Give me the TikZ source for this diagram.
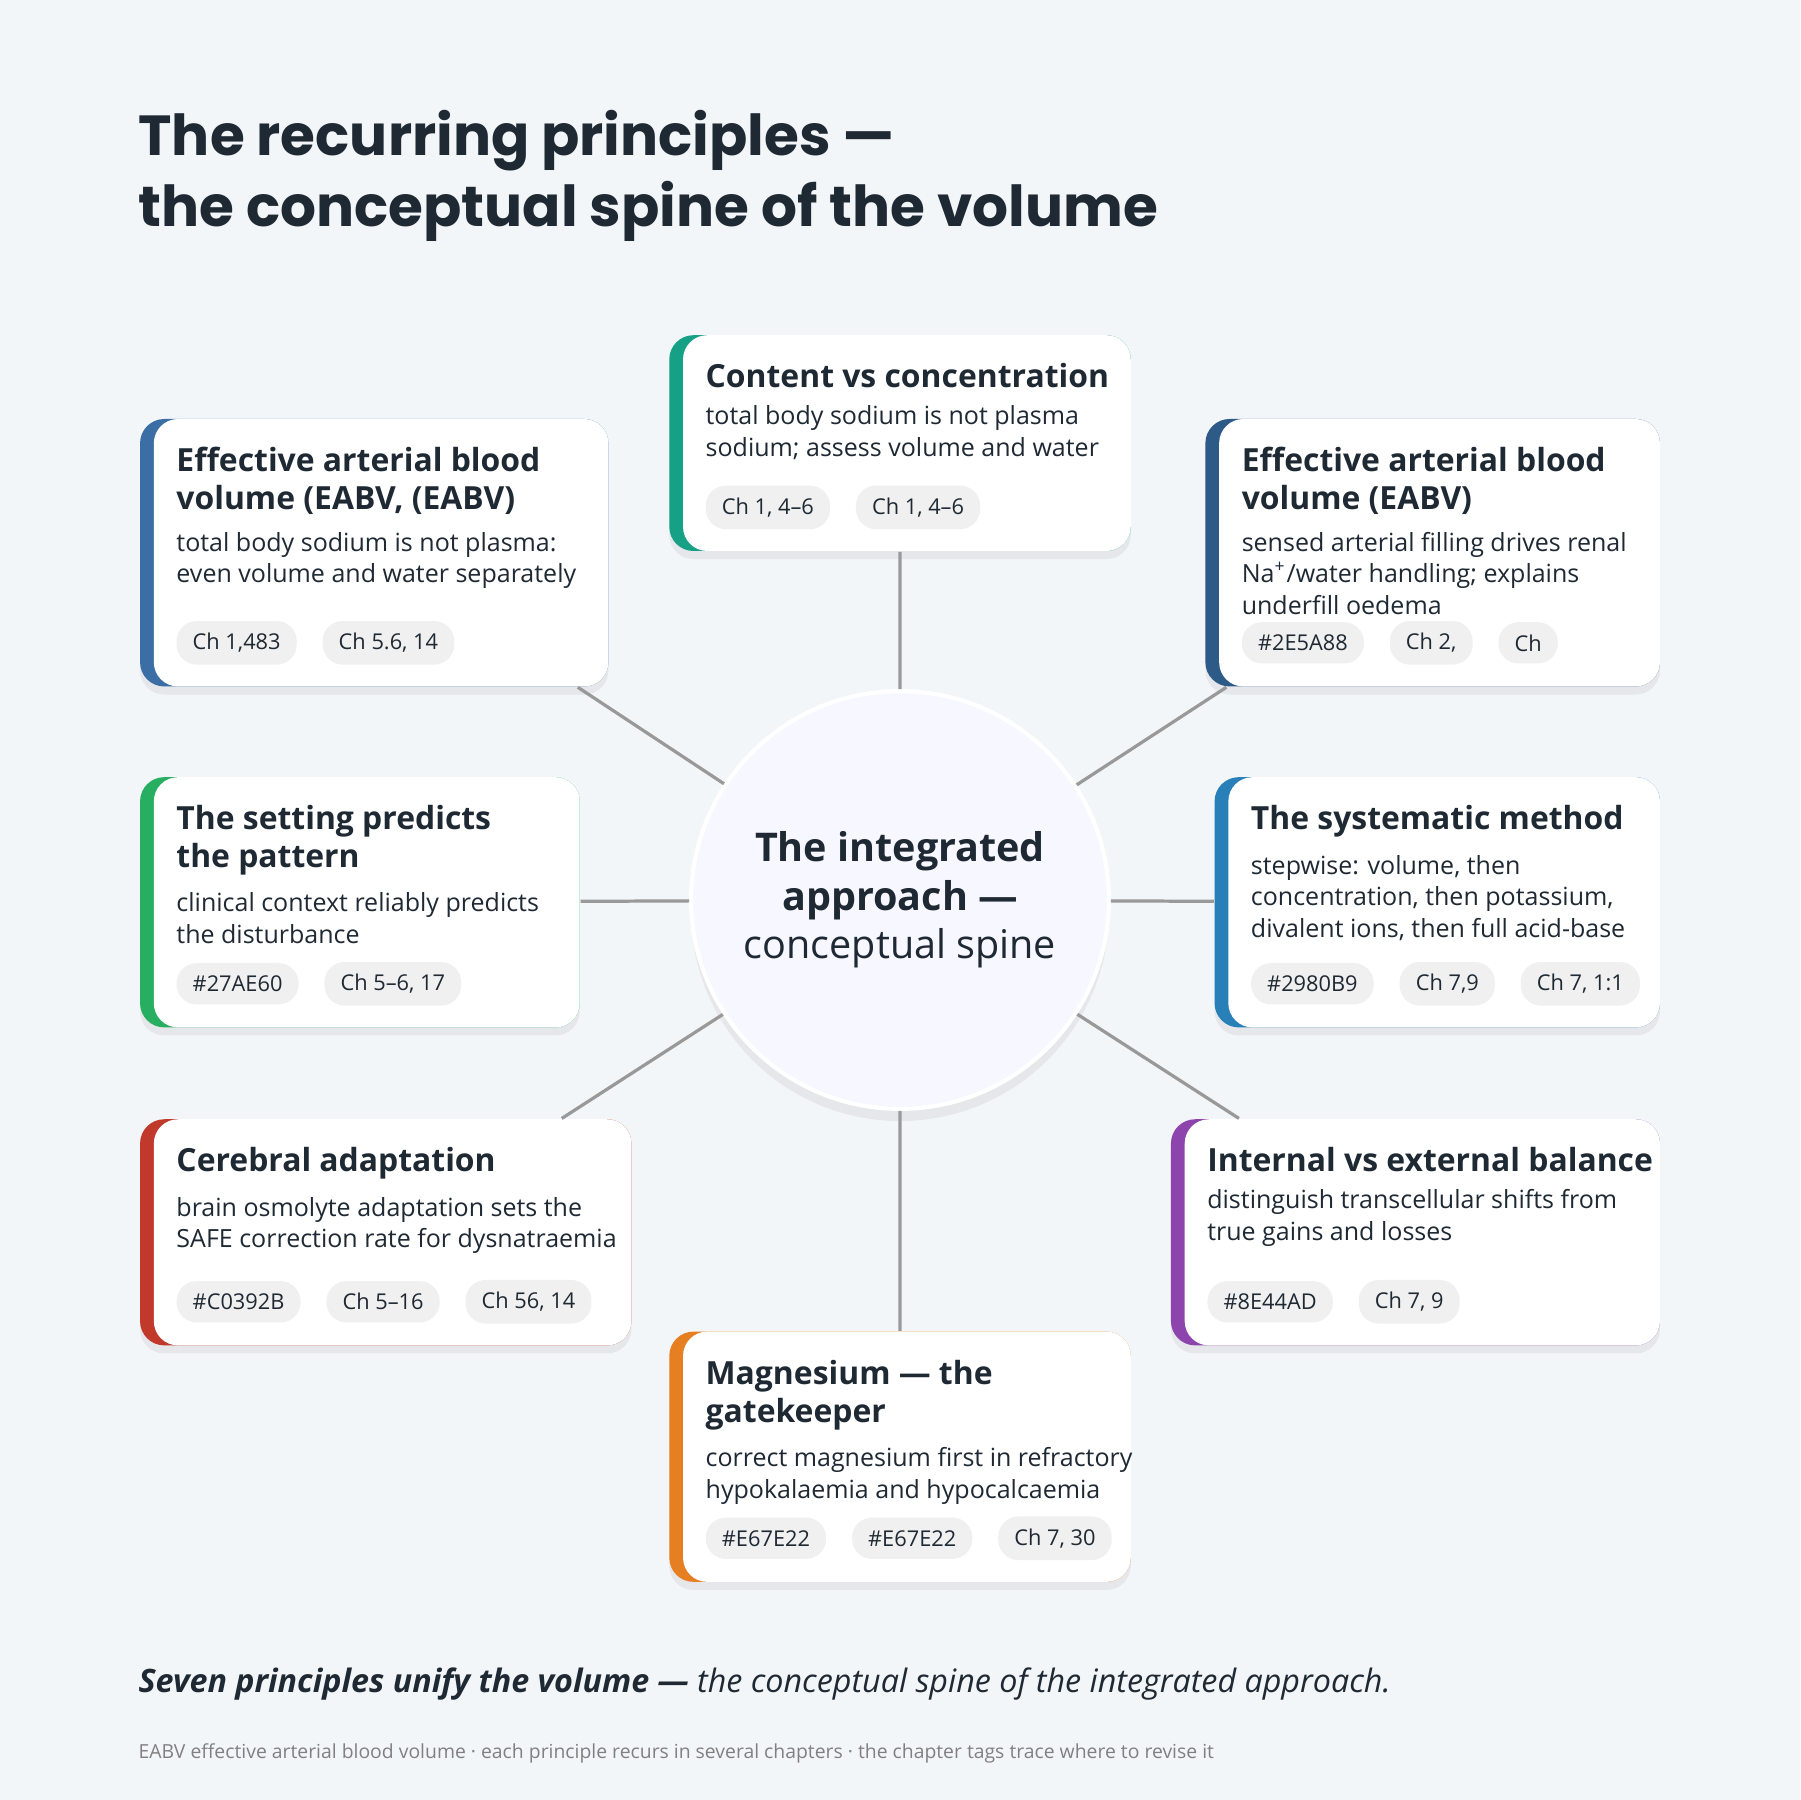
\documentclass[tikz,border=0pt]{standalone}
\usepackage{fontspec}
\setmainfont{Open Sans}
\newfontfamily\headfont{Poppins}
\usetikzlibrary{positioning, fit, shadows}

\definecolor{ink}{HTML}{1F2933}
\definecolor{bgc}{HTML}{F3F6F9}
\definecolor{teal}{HTML}{16A085}
\definecolor{steel}{HTML}{3A6EA5}
\definecolor{navy}{HTML}{2E5A88}
\definecolor{leaf}{HTML}{27AE60}
\definecolor{sky}{HTML}{2980B9}
\definecolor{brick}{HTML}{C0392B}
\definecolor{plum}{HTML}{8E44AD}
\definecolor{amber}{HTML}{E67E22}

\tikzset{
  head/.style  = {font=\fontsize{7.9}{9.4}\selectfont\bfseries, text=ink, align=left, inner sep=0pt},
  body/.style  = {font=\fontsize{6.2}{7.8}\selectfont, text=ink, align=left, inner sep=0pt},
  chip/.style  = {font=\fontsize{5.4}{6}\selectfont, text=ink, fill=black!6, rounded corners=5pt,
                  inner xsep=4pt, inner ysep=3pt, minimum height=0.36cm},
  link/.style  = {draw=black!40, line width=0.8pt},
}

% name, x1, ytop, x2, ybot, colour, title, body, chips
\newcommand{\principle}[9]{
  \fill[#6, rounded corners=6pt, drop shadow={opacity=.12, shadow xshift=0pt, shadow yshift=-2pt}]
    (#2,#5) rectangle (#4,#3);
  \fill[white, rounded corners=6pt] (#2+0.12,#5) rectangle (#4,#3);
  \node[inner sep=0pt, fit={(#2,#5)(#4,#3)}] (#1) {};
  \node[head, anchor=north west] (#1t) at (#2+0.31,#3-0.24) {#7};
  \node[body, anchor=north west] (#1b) at ([yshift=-0.14cm]#1t.south west) {#8};
  \coordinate (#1c0) at (#2+0.1,#5+0.38);
  \foreach \c [count=\i, remember=\i as \j (initially 0)] in {#9}
    \node[chip, anchor=west] (#1c\i) at ([xshift=6pt]#1c\j.east) {\c};
}

\begin{document}
\begin{tikzpicture}
  \fill[bgc] (0,0) rectangle (15.68,15.68);
  \useasboundingbox (0,0) rectangle (15.68,15.68);

  % heading
  \node[anchor=west, inner sep=0pt, text=ink, align=left,
        font=\headfont\fontsize{14}{17.5}\selectfont\bfseries] (title) at (1.2,14.15)
    {The recurring principles —\\the conceptual spine of the volume};

  % hub
  \node[circle, minimum size=3.64cm, fill=blue!3!white, draw=white, line width=1pt,
        drop shadow={opacity=.12, shadow xshift=0pt, shadow yshift=-3pt},
        align=center, text=ink, font=\fontsize{9.8}{12}\selectfont] (hub) at (7.84,7.84)
    {\textbf{The integrated}\\\textbf{approach —}\\conceptual spine};

  \principle{content}{5.83}{12.76}{9.85}{10.88}{teal}{Content vs concentration}
    {total body sodium is not plasma\\sodium; assess volume and water}{{Ch 1, 4–6}, {Ch 1, 4–6}}
  \principle{eabvl}{1.22}{12.03}{5.30}{9.70}{steel}{Effective arterial blood\\volume (EABV, (EABV)}
    {total body sodium is not plasma:\\even volume and water separately}{{Ch 1,483}, {Ch 5.6, 14}}
  \principle{eabvr}{10.50}{12.03}{14.46}{9.70}{navy}{Effective arterial blood\\volume (EABV)}
    {sensed arterial filling drives renal\\Na\textsuperscript{+}/water handling; explains\\underfill oedema}{\#2E5A88, {Ch 2,}, Ch}
  \principle{setting}{1.22}{8.91}{5.05}{6.73}{leaf}{The setting predicts\\the pattern}
    {clinical context reliably predicts\\the disturbance}{\#27AE60, {Ch 5–6, 17}}
  \principle{method}{10.58}{8.91}{14.46}{6.73}{sky}{The systematic method}
    {stepwise: volume, then\\concentration, then potassium,\\divalent ions, then full acid-base}{\#2980B9, {Ch 7,9}, {Ch 7, 1:1}}
  \principle{cerebral}{1.22}{5.93}{5.50}{3.96}{brick}{Cerebral adaptation}
    {brain osmolyte adaptation sets the\\SAFE correction rate for dysnatraemia}{\#C0392B, Ch 5–16, {Ch 56, 14}}
  \principle{balance}{10.20}{5.93}{14.46}{3.96}{plum}{Internal vs external balance}
    {distinguish transcellular shifts from\\true gains and losses}{\#8E44AD, {Ch 7, 9}}
  \principle{magnes}{5.83}{4.08}{9.85}{1.90}{amber}{Magnesium — the\\gatekeeper}
    {correct magnesium first in refractory\\hypokalaemia and hypocalcaemia}{\#E67E22, \#E67E22, {Ch 7, 30}}

  \path[link] (hub) -- (content);
  \path[link] (hub) -- (eabvl);
  \path[link] (hub) -- (eabvr);
  \path[link] (hub) -- (setting);
  \path[link] (hub) -- (method);
  \path[link] (hub) -- (cerebral);
  \path[link] (hub) -- (balance);
  \path[link] (hub) -- (magnes);

  % footer
  \node[anchor=west, inner sep=0pt, text=ink, font=\fontsize{8}{10}\selectfont\itshape] (moral) at (1.2,1.01)
    {\textbf{Seven principles unify the volume —} the conceptual spine of the integrated approach.};
  \node[anchor=west, inner sep=0pt, text=black!50, font=\fontsize{4.8}{6}\selectfont] (note) at (1.2,0.41)
    {EABV effective arterial blood volume · each principle recurs in several chapters · the chapter tags trace where to revise it};
\end{tikzpicture}
\end{document}
